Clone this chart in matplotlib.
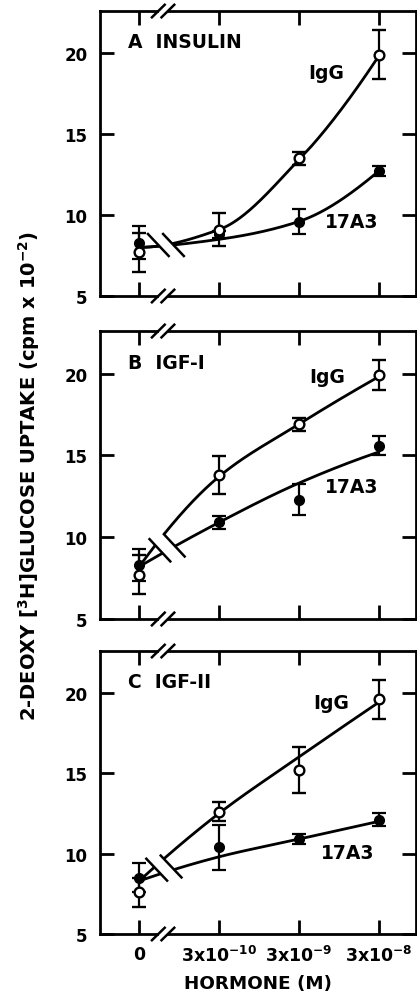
import matplotlib
matplotlib.use("Agg")
import matplotlib.pyplot as plt
import numpy as np

plt.rcParams['font.family'] = ['DejaVu Sans']
plt.rcParams['font.weight'] = 'bold'
plt.rcParams['mathtext.fontset'] = 'custom'
plt.rcParams['mathtext.rm'] = 'DejaVu Sans:bold'
plt.rcParams['mathtext.it'] = 'DejaVu Sans:bold'
plt.rcParams['mathtext.bf'] = 'DejaVu Sans:bold'

# Dosis-Achse (kategorisch, mit Achsenbruch zwischen 0 und 3x10^-10)
dose_labels = ["0", "3x10$^{-10}$", "3x10$^{-9}$", "3x10$^{-8}$"]
panel_titles = ["A  INSULIN", "B  IGF-I", "C  IGF-II"]

# Messwerte (cpm x 10^-2), IgG = offene Kreise, 17A3 = gefuellte Kreise
ins_igg = [7.7, 9.1, 13.5, 19.9]
ins_igg_err = [1.2, 1.0, 0.4, 1.5]
ins_ab = [8.3, 8.8, 9.6, 12.7]
ins_ab_err = [1.0, 0.2, 0.75, 0.3]

igf1_igg = [7.7, 13.8, 16.9, 19.9]
igf1_igg_err = [1.2, 1.15, 0.4, 0.9]
igf1_ab = [8.3, 10.9, 12.3, 15.6]
igf1_ab_err = [1.0, 0.4, 0.95, 0.6]

igf2_igg = [7.6, 12.6, 15.2, 19.6]
igf2_igg_err = [0.9, 0.6, 1.4, 1.2]
igf2_ab = [8.5, 10.4, 10.9, 12.1]
igf2_ab_err = [0.9, 1.4, 0.3, 0.4]

# gezeichnete Kurven (Werte der Kurve an den Dosen)
ins_igg_line = [8.0, 9.1, 13.4, 19.8]
ins_ab_line = [8.0, 8.5, 9.6, 12.7]
igf1_igg_line = [8.2, 13.7, 16.9, 19.8]
igf1_ab_line = [8.2, 10.9, 13.3, 15.2]
igf2_igg_line = [8.3, 12.5, 16.0, 19.4]
igf2_ab_line = [8.3, 9.8, 10.9, 12.0]

panels = [
    (ins_igg, ins_igg_err, ins_ab, ins_ab_err, ins_igg_line, ins_ab_line),
    (igf1_igg, igf1_igg_err, igf1_ab, igf1_ab_err, igf1_igg_line, igf1_ab_line),
    (igf2_igg, igf2_igg_err, igf2_ab, igf2_ab_err, igf2_igg_line, igf2_ab_line),
]

# Layout
axes_pos = [[0.240, 0.7015, 0.7576, 0.2864],
            [0.240, 0.3769, 0.7576, 0.2894],
            [0.240, 0.0603, 0.7576, 0.2844]]
break_pos = [[(0.24, 8.15), (0.43, 8.15)],
             [(0.26, 9.2), (0.44, 9.5)],
             [(0.22, 9.0), (0.40, 9.2)]]
slash_dx, slash_dy = 0.13, 0.68
igg_text = [(2.35, 18.8), (2.36, 19.8), (2.41, 19.4)]
ab_text = [(2.66, 9.6), (2.66, 13.1), (2.61, 10.1)]


def pchip(x, y, xs):
    # monotone kubische Interpolation (Fritsch-Carlson)
    x = np.asarray(x, float)
    y = np.asarray(y, float)
    h = np.diff(x)
    d = np.diff(y) / h
    m = np.zeros_like(y)
    for k in range(1, len(y) - 1):
        if d[k - 1] * d[k] > 0:
            w1 = 2 * h[k] + h[k - 1]
            w2 = h[k] + 2 * h[k - 1]
            m[k] = (w1 + w2) / (w1 / d[k - 1] + w2 / d[k])
    for i, (h0, h1, d0, d1) in [(0, (h[0], h[1], d[0], d[1])),
                                (-1, (h[-1], h[-2], d[-1], d[-2]))]:
        e = ((2 * h0 + h1) * d0 - h0 * d1) / (h0 + h1)
        if np.sign(e) != np.sign(d0):
            e = 0
        elif np.sign(d0) != np.sign(d1) and abs(e) > 3 * abs(d0):
            e = 3 * d0
        m[i] = e
    idx = np.clip(np.searchsorted(x, xs) - 1, 0, len(x) - 2)
    t = (xs - x[idx]) / h[idx]
    h00 = 2 * t**3 - 3 * t**2 + 1
    h10 = t**3 - 2 * t**2 + t
    h01 = -2 * t**3 + 3 * t**2
    h11 = t**3 - t**2
    return (h00 * y[idx] + h10 * h[idx] * m[idx]
            + h01 * y[idx + 1] + h11 * h[idx] * m[idx + 1])


def side(xs, ys, b):
    # Vorzeichen relativ zum Bruchstrich "\"
    bx, by = b
    return (ys - by) + (xs - bx) * slash_dy / slash_dx


xpos = np.arange(len(dose_labels))
fig = plt.figure(figsize=(4.17, 9.95), dpi=100)

for i, (igg, igg_err, ab, ab_err, igg_line, ab_line) in enumerate(panels):
    ax = fig.add_axes(axes_pos[i])
    b1, b2 = break_pos[i]

    # Kurven mit Unterbrechung
    xs = np.linspace(0, 3, 3001)
    for line in (igg_line, ab_line):
        ys = pchip(xpos, line, xs)
        left = side(xs, ys, b1) <= 0
        right = side(xs, ys, b2) >= 0
        ax.plot(xs[left], ys[left], color="black", lw=2.0,
                solid_capstyle="butt", zorder=2)
        ax.plot(xs[right], ys[right], color="black", lw=2.0,
                solid_capstyle="butt", zorder=2)

    # Bruchzeichen in den Kurven "\\"
    for bx, by in break_pos[i]:
        ax.plot([bx - slash_dx, bx + slash_dx], [by + slash_dy, by - slash_dy],
                color="black", lw=1.8, zorder=3)

    ax.errorbar(xpos, ab, yerr=ab_err, fmt="o", color="black", ms=7,
                mfc="black", mec="black", ecolor="black", elinewidth=1.6,
                capsize=5, capthick=1.6, zorder=4)
    ax.errorbar(xpos, igg, yerr=igg_err, fmt="o", color="black", ms=7,
                mfc="white", mec="black", mew=1.7, ecolor="black",
                elinewidth=1.6, capsize=5, capthick=1.6, zorder=5)

    ax.set_xlim(-0.49, 3.47)
    ax.set_ylim(5, 22.6)
    ax.set_yticks([5, 10, 15, 20])
    ax.set_xticks(xpos)
    ax.tick_params(direction="in", length=10, width=2, top=True, right=True,
                   labelsize=12)
    ax.tick_params(axis="y", pad=9)
    ax.tick_params(axis="x", pad=8, labelsize=12.5)
    for s in ax.spines.values():
        s.set_linewidth(2)
    if i == 2:
        ax.set_xticklabels(dose_labels)
    else:
        ax.set_xticklabels([])

    # Achsenbruch "//" oben und unten
    trans = ax.get_xaxis_transform()
    for yy in (0, 1):
        ax.plot([0.25, 0.35], [yy, yy], color="white", lw=3, transform=trans,
                clip_on=False, zorder=6, solid_capstyle="butt")
        for sx in (0.24, 0.36):
            ax.plot([sx - 0.08, sx + 0.08], [yy - 0.022, yy + 0.022],
                    color="black", lw=1.8, transform=trans, clip_on=False,
                    zorder=7)

    ax.text(0.089, 0.892, panel_titles[i], transform=ax.transAxes,
            fontsize=13.5, fontweight="bold", ha="left", va="center")
    ax.text(*igg_text[i], "IgG", fontsize=13.5, fontweight="bold",
            ha="center", va="center")
    ax.text(*ab_text[i], "17A3", fontsize=13.5, fontweight="bold",
            ha="center", va="center")

fig.text(0.070, 0.522, "2-DEOXY [$^{3}$H]GLUCOSE UPTAKE (cpm x 10$^{-2}$)",
         rotation=90, ha="center", va="center", fontsize=14,
         fontweight="bold")
fig.text(0.619, 0.002, "HORMONE (M)", ha="center", va="bottom",
         fontsize=13.2, fontweight="bold")

fig.savefig("out.png", dpi=100)
